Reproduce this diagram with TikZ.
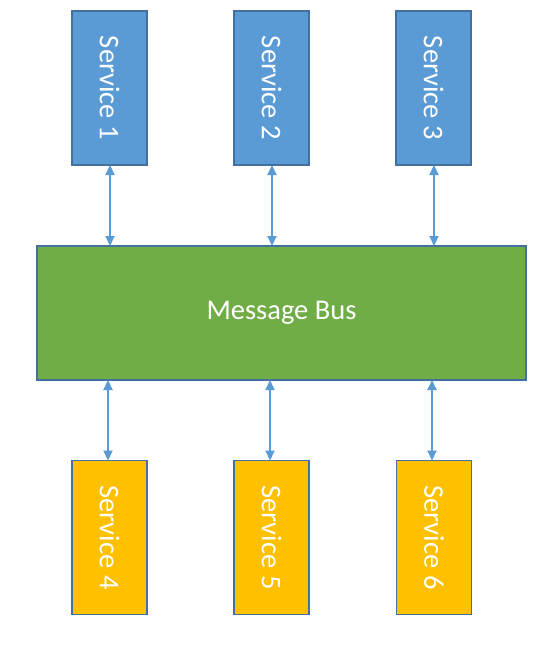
\documentclass[tikz,border=0pt]{standalone}
\usepackage{fontspec}
\setmainfont{Carlito}
\usetikzlibrary{arrows.meta}
\definecolor{svcblue}{HTML}{5B9BD5}
\definecolor{edgeblue}{HTML}{41719C}
\definecolor{busgreen}{HTML}{70AD47}
\definecolor{svcorange}{HTML}{FFC000}
\tikzset{
  box/.style={draw=edgeblue, line width=1.6pt, outer sep=0pt, inner sep=0pt,
    text=white, font=\fontsize{28.5}{30}\selectfont},
  svcbox/.style={box, minimum width=75pt, minimum height=154pt},
  upper/.style={svcbox, fill=svcblue},
  lower/.style={svcbox, fill=svcorange},
  busbox/.style={box, fill=busgreen, minimum width=489pt, minimum height=134pt},
  link/.style={draw=svcblue, line width=2pt,
    {Triangle[length=10pt,width=9pt]}-{Triangle[length=10pt,width=9pt]}}
}
\begin{document}
\begin{tikzpicture}[x=1pt,y=-1pt]
\useasboundingbox (0,0) rectangle (536,645);
\node[upper] (s1) at (109.5,88) {\rotatebox{-90}{Service 1}};
\node[upper] (s2) at (271.5,88) {\rotatebox{-90}{Service 2}};
\node[upper] (s3) at (433.5,88) {\rotatebox{-90}{Service 3}};
\node[busbox] (bus) at (281.5,313) {\raisebox{-2.5pt}{Message Bus}};
\node[lower] (s4) at (109.5,537.5) {\rotatebox{-90}{Service 4}};
\node[lower] (s5) at (271.5,537.5) {\rotatebox{-90}{Service 5}};
\node[lower] (s6) at (434,537.5) {\rotatebox{-90}{Service 6}};
\draw[link] ([xshift=0.5pt]s1.south) -- ([xshift=0.5pt]s1.south |- bus.north);
\draw[link] ([xshift=0.5pt]s2.south) -- ([xshift=0.5pt]s2.south |- bus.north);
\draw[link] ([xshift=0.5pt]s3.south) -- ([xshift=0.5pt]s3.south |- bus.north);
\draw[link] ([xshift=-1.5pt]s4.north |- bus.south) -- ([xshift=-1.5pt]s4.north);
\draw[link] ([xshift=-1.5pt]s5.north |- bus.south) -- ([xshift=-1.5pt]s5.north);
\draw[link] ([xshift=-2pt]s6.north |- bus.south) -- ([xshift=-2pt]s6.north);
\end{tikzpicture}
\end{document}
